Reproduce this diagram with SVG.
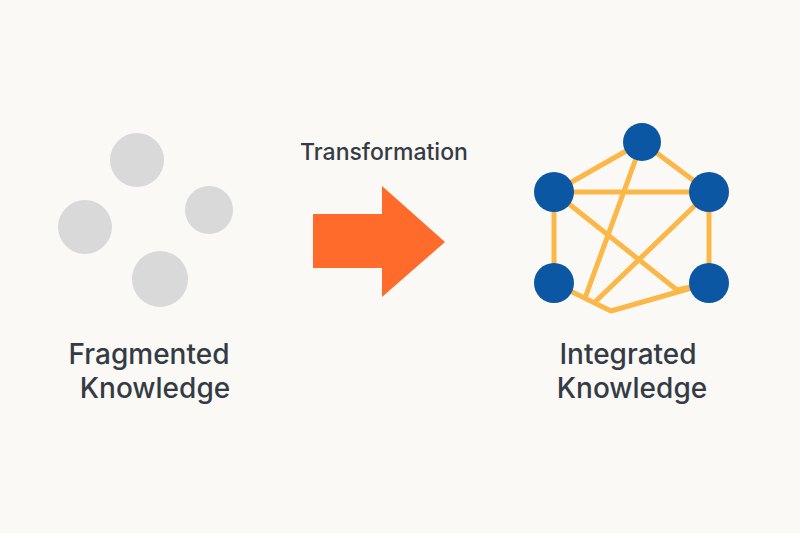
<svg xmlns="http://www.w3.org/2000/svg" width="800" height="533" viewBox="0 0 800 533">
<style>
.t{font-family:"Inter","Liberation Sans",sans-serif;fill:#353b45;font-weight:500;text-anchor:middle}
.g{fill:#d9d9d9}
.n{fill:#0b57a4}
.e{stroke:#fbb848;stroke-width:5;fill:none;stroke-linejoin:round}
</style>
<rect width="800" height="533" fill="#faf9f6"/>
<g id="fragmented">
<circle class="g" cx="137" cy="160" r="27"/>
<circle class="g" cx="209" cy="210" r="24"/>
<circle class="g" cx="85" cy="227" r="27"/>
<circle class="g" cx="160" cy="279" r="28"/>
<text class="t" x="149" y="364" font-size="28">Fragmented</text>
<text class="t" x="155" y="398" font-size="28">Knowledge</text>
</g>
<g id="transformation">
<text class="t" x="384" y="160" font-size="23">Transformation</text>
<polygon points="313,214 382,214 382,186 445,242 382,297 382,268 313,268" fill="#ff6b2b"/>
</g>
<g id="connectors">
<line class="e" x1="642" y1="142" x2="554" y2="192"/>
<line class="e" x1="642" y1="142" x2="709" y2="192"/>
<line class="e" x1="554" y1="192" x2="709" y2="192"/>
<line class="e" x1="554" y1="192" x2="554" y2="283"/>
<line class="e" x1="709" y1="192" x2="709" y2="283"/>
<line class="e" x1="642" y1="142" x2="585" y2="298"/>
<polyline class="e" points="554,192 677,290 709,283"/>
<line class="e" x1="709" y1="192" x2="594" y2="303"/>
<polyline class="e" points="554,283 611,311 709,283"/>
</g>
<g id="integrated">
<circle class="n" cx="642" cy="142" r="19"/>
<circle class="n" cx="554" cy="192" r="20"/>
<circle class="n" cx="709" cy="192" r="20"/>
<circle class="n" cx="554" cy="283" r="20"/>
<circle class="n" cx="709" cy="283" r="20"/>
<text class="t" x="628" y="364" font-size="28">Integrated</text>
<text class="t" x="632" y="398" font-size="28">Knowledge</text>
</g>
</svg>
